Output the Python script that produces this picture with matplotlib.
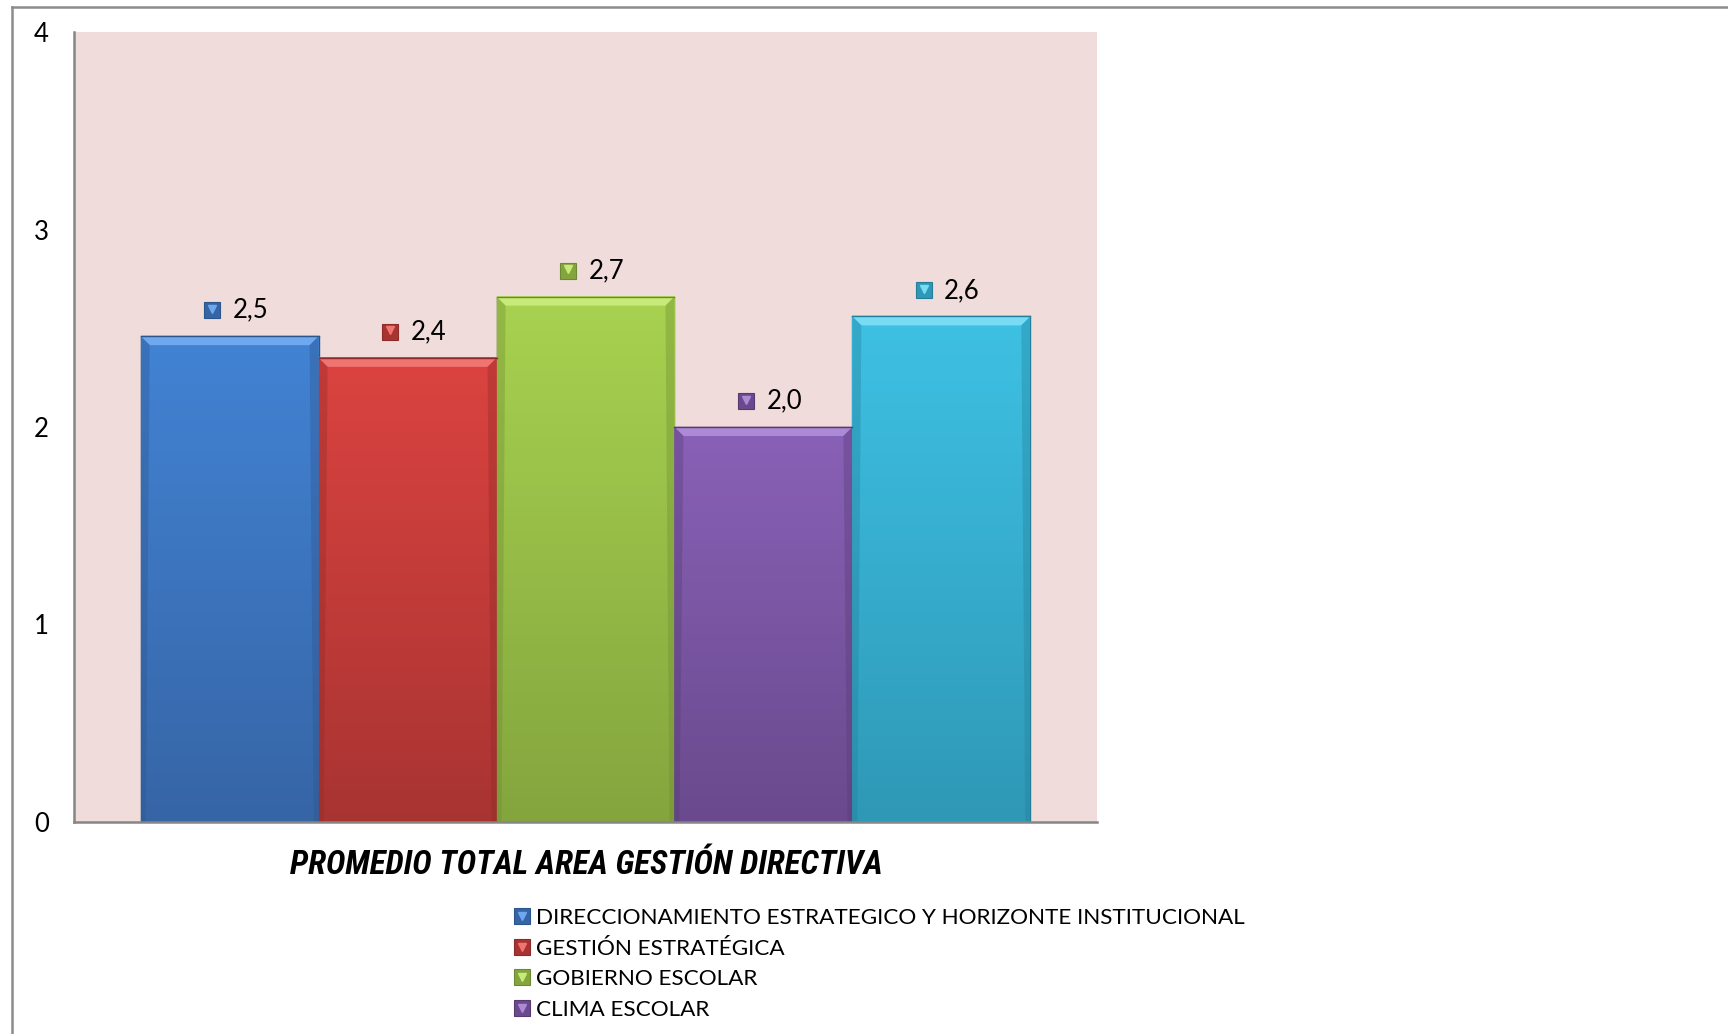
import matplotlib.pyplot as plt
import numpy as np
from matplotlib.colors import LinearSegmentedColormap
from matplotlib.lines import Line2D
from matplotlib.patches import Polygon
from matplotlib.legend_handler import HandlerTuple

# average score per component of the area
series = ['DIRECCIONAMIENTO ESTRATEGICO Y HORIZONTE INSTITUCIONAL',
          'GESTIÓN ESTRATÉGICA',
          'GOBIERNO ESCOLAR',
          'CLIMA ESCOLAR',
          'RELACIONES CON EL ENTORNO']
values = [2.46, 2.35, 2.66, 2.0, 2.56]
title = 'PROMEDIO TOTAL AREA GESTIÓN DIRECTIVA'
yticks = [0, 1, 2, 3, 4]

top_colors = ['#4283d4', '#db4340', '#a8d250', '#8961b7', '#3ec1e4']
bottom_colors = ['#3665a6', '#a83432', '#84a53e', '#6a4a8d', '#2f98b6']
bevel_colors = ['#6fa8ee', '#f07472', '#c8ea7a', '#ad8ad6', '#79dcf4']
edge_colors = ['#2c558c', '#8c2b29', '#6c8a31', '#553a73', '#237e98']

body_font = ['Lato', 'DejaVu Sans']

W, H = 1728, 1034
fig = plt.figure(figsize=(W / 100, H / 100), dpi=100)
ax = fig.add_axes([74 / W, 1 - 822 / H, 1023 / W, 790 / H])
ax.set_facecolor('#f0dcdb')

x = np.arange(len(values)) - 2
ax.set_xlim(-2.875, 2.875)
ax.set_ylim(0, 4)

bars = ax.bar(x, values, width=1, color=top_colors, edgecolor=edge_colors,
              linewidth=1, zorder=2)

# pixel sizes in data units, for the bevel
px_x = 5.75 / 1023
px_y = 4 / 790
for i, b in enumerate(bars):
    x0, x1, h = b.get_x(), b.get_x() + b.get_width(), b.get_height()
    cm = LinearSegmentedColormap.from_list('g', [bottom_colors[i], top_colors[i]])
    grad = np.linspace(0, 1, 256).reshape(-1, 1)
    ax.imshow(grad, cmap=cm, extent=(x0, x1, 0, h), origin='lower',
              aspect='auto', zorder=2.1)
    bx, by = 9 * px_x, 9 * px_y
    ax.add_patch(Polygon([(x0, h), (x1, h), (x1 - bx, h - by), (x0 + bx, h - by)],
                         closed=True, facecolor=bevel_colors[i], edgecolor='none',
                         zorder=2.2))
    sx = 5 * px_x
    ax.add_patch(Polygon([(x0, 0), (x0, h), (x0 + bx, h - by), (x0 + sx, 0)],
                         closed=True, facecolor=edge_colors[i], alpha=0.35,
                         edgecolor='none', zorder=2.2))
    ax.add_patch(Polygon([(x1, 0), (x1, h), (x1 - bx, h - by), (x1 - sx, 0)],
                         closed=True, facecolor=edge_colors[i], alpha=0.35,
                         edgecolor='none', zorder=2.2))
    ax.plot([x0, x1], [h, h], color=edge_colors[i], lw=1, zorder=2.3)

    # value label with its small series marker
    ly = h + 26 * px_y
    ax.plot(x[i] - 0.1, ly, marker='s', ms=11, color=bottom_colors[i],
            mec=edge_colors[i], mew=0.8, ls='', zorder=3)
    ax.plot(x[i] - 0.1, ly + 1.5 * px_y, marker='v', ms=5.5, color=bevel_colors[i],
            ls='', zorder=3.1)
    ax.text(x[i] + 0.016, ly, f'{values[i]:.1f}'.replace('.', ','),
            ha='left', va='center', fontsize=18.5, family=body_font, zorder=3)

ax.set_xticks([])
ax.set_yticks(yticks)
ax.set_yticklabels([str(t) for t in yticks], family=body_font, fontsize=18.5)
ax.tick_params(axis='y', length=0, pad=18)
for s in ['top', 'right']:
    ax.spines[s].set_visible(False)
for s in ['left', 'bottom']:
    ax.spines[s].set_color('#868686')
    ax.spines[s].set_linewidth(1.8)
    ax.spines[s].set_zorder(4)

# chart area border
fig.add_artist(Line2D([12 / W, 12 / W], [-0.01, 1 - 7 / H], transform=fig.transFigure,
                      color='#8c8c8c', lw=1.8))
fig.add_artist(Line2D([12 / W, 1.01], [1 - 7 / H, 1 - 7 / H], transform=fig.transFigure,
                      color='#8c8c8c', lw=1.8))

fig.text(586 / W, 1 - 865 / H, title, ha='center', va='center', fontsize=23.9,
         fontweight='bold', fontstyle='italic', fontstretch='condensed',
         family=['Liberation Sans Narrow', 'Roboto Condensed', 'Roboto'])

handles = []
for i in range(4):
    sq = Line2D([], [], marker='s', ms=11, color=bottom_colors[i], mec=edge_colors[i],
                mew=0.8, ls='')
    tri = Line2D([], [], marker='v', ms=5.5, color=bevel_colors[i], ls='')
    handles.append((sq, tri))
fig.legend(handles, series[:4], loc='upper left',
           bbox_to_anchor=(514 / W, 1 - 908 / H), frameon=False,
           handler_map={tuple: HandlerTuple(ndivide=1)},
           prop={'family': body_font, 'size': 16.2},
           handlelength=0.75, handletextpad=0.25, labelspacing=0.47,
           borderpad=0, borderaxespad=0)

fig.savefig('out.png', dpi=100)
